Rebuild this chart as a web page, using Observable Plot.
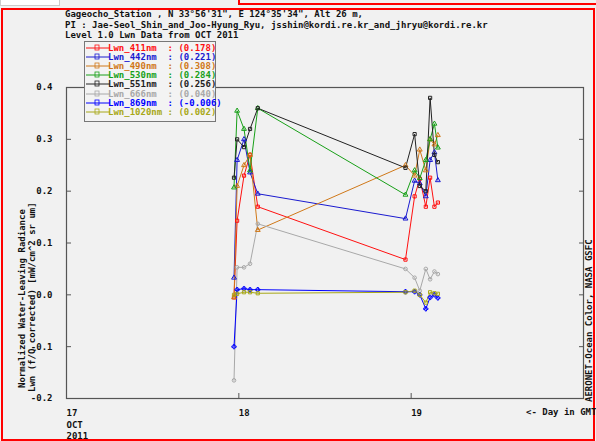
<!DOCTYPE html>
<html>
<head>
<meta charset="utf-8">
<script src="https://cdn.jsdelivr.net/npm/d3@7"></script>
<script src="https://cdn.jsdelivr.net/npm/@observablehq/plot@0.6"></script>
<style>
  html, body { margin:0; padding:0; background:#f1f1f1; }
  #page { position:relative; width:596px; height:441px; overflow:hidden; background:#f1f1f1;
          font-family:"DejaVu Sans Mono", monospace; font-weight:bold; font-size:9px; color:#111; }
  #page svg { position:absolute; left:0; top:0; }
  .abs { position:absolute; white-space:pre; }
  #border { position:absolute; left:1px; top:8px; width:590px; height:429px; border:2px solid #ff0000; }
  #topbox { position:absolute; left:0; top:0; width:58px; height:5px; background:#fff; border:1px solid #ccc; border-top:none; }
  #topline { position:absolute; left:238px; top:0; width:356px; height:3px; border:2px solid #ff0000; border-top:none; }
  #legend { position:absolute; left:84px; top:41px; width:130px; height:79px; background:#f3f3f3; border:1px solid #777; }
  .rot { position:absolute; transform-origin:0 0; transform:rotate(-90deg); white-space:pre; }
</style>
</head>
<body>
<div id="page">
  <div id="topbox"></div>
  <div id="topline"></div>
  <div id="border"></div>
  <div id="chart"></div>
  <div class="abs" style="left:65px;top:9px;">Gageocho_Station , N 33°56'31", E 124°35'34", Alt 26 m,</div>
  <div class="abs" style="left:65px;top:20px;">PI : Jae-Seol_Shin_and_Joo-Hyung_Ryu, jsshin@kordi.re.kr_and_jhryu@kordi.re.kr</div>
  <div class="abs" style="left:65px;top:30px;">Level 1.0 Lwn Data from OCT 2011</div>
  <div class="rot" style="left:17px;top:388px;">Normalized Water-Leaving Radiance</div>
  <div class="rot" style="left:27px;top:392px;">Lwn (f/Q corrected) [mW/cm^2 sr um]</div>
  <div class="rot" style="left:584px;top:402px;">AERONET-Ocean Color, NASA GSFC</div>
  <div class="abs" style="left:526px;top:407px;">&lt;- Day in GMT</div>
  <div id="legend"></div>
</div>
<script>
// ---- data ----
const times = [17.972, 17.99, 18.03, 18.065, 18.11, 18.967, 19.02, 19.05, 19.085, 19.11, 19.135, 19.155];
const seriesNames = ["Lwn_411nm", "Lwn_442nm", "Lwn_490nm", "Lwn_530nm", "Lwn_551nm", "Lwn_666nm", "Lwn_869nm", "Lwn_1020nm"];
const seriesLegendValues = ["0.178", "0.221", "0.308", "0.284", "0.256", "0.040", "-0.006", "0.002"];
const lwn411  = [-0.005, 0.143, 0.23, 0.27, 0.17, 0.068, 0.19, 0.224, 0.17, 0.226, 0.17, 0.178];
const lwn442  = [0.033, 0.26, 0.30, 0.236, 0.195, 0.147, 0.22, 0.215, 0.19, 0.26, 0.275, 0.221];
const lwn490  = [-0.005, 0.21, 0.25, 0.27, 0.125, 0.25, 0.23, 0.28, 0.24, 0.30, 0.29, 0.308];
const lwn530  = [0.207, 0.355, 0.32, 0.24, 0.36, 0.193, 0.24, 0.225, 0.26, 0.30, 0.33, 0.284];
const lwn551  = [0.226, 0.30, 0.285, 0.32, 0.36, 0.245, 0.31, 0.21, 0.20, 0.38, 0.27, 0.256];
const lwn666  = [-0.165, 0.053, 0.053, 0.06, 0.137, 0.05, 0.033, 0.008, 0.05, 0.03, 0.045, 0.040];
const lwn869  = [-0.10, 0.01, 0.012, 0.01, 0.01, 0.006, 0.006, 0.0, -0.027, -0.005, 0.0, -0.006];
const lwn1020 = [0.0, 0.002, 0.005, 0.005, 0.003, 0.005, 0.008, 0.0, -0.015, 0.005, 0.003, 0.002];
const seriesValues = [lwn411, lwn442, lwn490, lwn530, lwn551, lwn666, lwn869, lwn1020];
const seriesColors = ["#ff1010", "#1a1ad0", "#d07818", "#18a018", "#222222", "#a8a8a8", "#0000ff", "#a8a818"];
const seriesSymbols = ["square", "triangle", "triangle", "triangle", "square", "circle", "cross", "square"];
const yTicks = [-0.2, -0.1, 0.0, 0.1, 0.2, 0.3, 0.4];
const xTicks = [17, 18, 19];
const xTickLabels = ["17\nOCT\n2011", "18", "19"];

const rows = [];
seriesNames.forEach((s, si) => seriesValues[si].forEach((v, i) => rows.push({t: times[i], v, s})));

const chart = Plot.plot({
  width: 596, height: 441,
  marginLeft: 66, marginRight: 13, marginTop: 87, marginBottom: 43,
  x: {domain: [17, 20]},
  y: {domain: [-0.2, 0.4]},
  color: {domain: seriesNames, range: seriesColors},
  symbol: {domain: seriesNames, range: seriesSymbols},
  style: {background: "transparent", fontFamily: "DejaVu Sans Mono", fontSize: "9px", fontWeight: "bold", color: "#111"},
  marks: [
    Plot.frame({stroke: "#555", strokeWidth: 1.2}),
    Plot.axisY({anchor: "left", ticks: yTicks, tickFormat: d => d.toFixed(1), tickSize: -5, tickPadding: 19, label: null, stroke: "#555"}),
    Plot.axisY({anchor: "right", ticks: yTicks, tickFormat: () => "", tickSize: -5, label: null, stroke: "#555"}),
    Plot.axisX({anchor: "bottom", ticks: xTicks, tickFormat: () => "", tickSize: -5, label: null, stroke: "#555"}),
    Plot.text(xTicks, {x: d => d, text: (d, i) => xTickLabels[i], frameAnchor: "bottom", textAnchor: "start", lineAnchor: "top", dy: 9, lineHeight: 1.3, fill: "#111"}),
    Plot.line(rows, {x: "t", y: "v", z: "s", stroke: "s", strokeWidth: 1}),
    Plot.dot(rows, {x: "t", y: "v", stroke: "s", symbol: "s", r: 1.8, strokeWidth: 1})
  ]
});
document.getElementById("chart").appendChild(chart);

// legend
const lg = document.getElementById("legend");
seriesNames.forEach((s, i) => {
  const row = document.createElement("div");
  row.style.cssText = `position:absolute;left:0;top:${1 + i * 9.1}px;height:9px;width:130px;`;
  row.innerHTML = `<svg width="24" height="9" style="position:absolute;left:1px;top:0"><line x1="0" y1="5" x2="24" y2="5" stroke="${seriesColors[i]}" stroke-width="1"/><rect x="9" y="2" width="4" height="5" fill="none" stroke="${seriesColors[i]}" stroke-width="0.8"/></svg>` +
    `<span style="position:absolute;left:23px;top:0;color:${seriesColors[i]};white-space:pre">${s.padEnd(11)}: (${seriesLegendValues[i]})</span>`;
  lg.appendChild(row);
});
</script>
</body>
</html>
